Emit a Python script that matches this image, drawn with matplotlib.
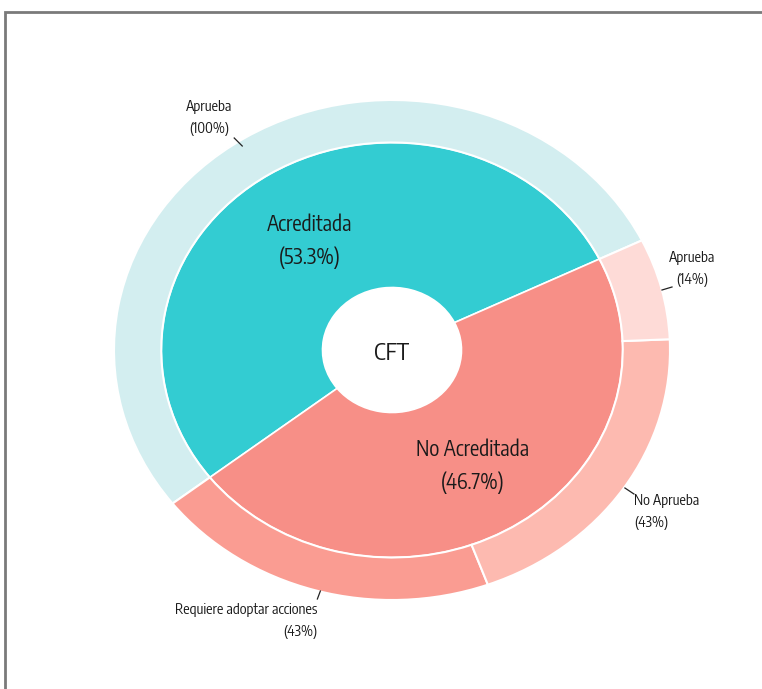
import matplotlib
matplotlib.use("Agg")
import matplotlib.pyplot as plt
from matplotlib.patches import Rectangle

plt.rcParams['font.family'] = ['Encode Sans Condensed', 'Ubuntu Condensed', 'DejaVu Sans']

# Data
center_label = "CFT"
inner_labels = ["Acreditada", "No Acreditada"]
inner_values = [53.3, 46.7]
outer_labels = ["Aprueba", "Requiere adoptar acciones", "No Aprueba", "Aprueba"]
outer_parent = [0, 1, 1, 1]
outer_pct = [100, 43, 43, 14]

inner_colors = ["#33CCD2", "#F78F87"]
outer_colors = ["#D3EEF0", "#FA9C92", "#FDBAB0", "#FEDBD7"]

outer_values = [inner_values[p] * pct / 100 for p, pct in zip(outer_parent, outer_pct)]

fig = plt.figure(figsize=(7.62, 6.89), dpi=100)
# frame
fig.patches.append(Rectangle((5/762, -0.1), 1.2, (689-12)/689 + 0.1, transform=fig.transFigure,
                             fill=False, edgecolor="#7a7a7a", linewidth=2))

ax = fig.add_axes([30.6/762, 14/689, 722.8/762, 650/689])

ax.pie(inner_values, radius=0.83, colors=inner_colors, startangle=26, counterclock=True,
       wedgeprops=dict(width=0.58, edgecolor="white", linewidth=1.2))
ax.pie(outer_values, radius=1.0, colors=outer_colors, startangle=26, counterclock=True,
       wedgeprops=dict(width=0.17, edgecolor="white", linewidth=1.5))
ax.set_aspect('auto')
ax.set_xlim(-1.3, 1.3)
ax.set_ylim(-1.3, 1.3)
ax.axis('off')

def px(x, y):
    return ((x - 392.5) / 277.5, (350 - y) / 250)

txtc = "#1a1a1a"
# center
ax.text(*px(392, 353), center_label, ha='center', va='center', fontsize=17, color=txtc)
# inner labels
ax.text(*px(310, 241), f"{inner_labels[0]}\n({inner_values[0]}%)", ha='center', va='center',
        fontsize=15, color=txtc, linespacing=1.6)
ax.text(*px(473, 466), f"{inner_labels[1]}\n({inner_values[1]}%)", ha='center', va='center',
        fontsize=15, color=txtc, linespacing=1.6)

# outer labels
def ann(i, text_xy, line_start, line_end, ha):
    ax.annotate(f"{outer_labels[i]}\n({outer_pct[i]}%)", xy=px(*line_end), xytext=px(*text_xy),
                ha=ha, va='center', fontsize=10.3, color=txtc, linespacing=1.65)
    xs, ys = zip(px(*line_start), px(*line_end))
    ax.plot(xs, ys, color="#222222", lw=0.9)

ann(0, (210, 118), (235, 138), (243, 146), 'center')
ann(3, (692, 269), (672, 287), (662, 290), 'center')
ann(2, (634, 512), (634, 494), (625, 488), 'left')
ann(1, (318, 621), (318, 599), (321, 591), 'right')

fig.savefig("out.png", dpi=100)
